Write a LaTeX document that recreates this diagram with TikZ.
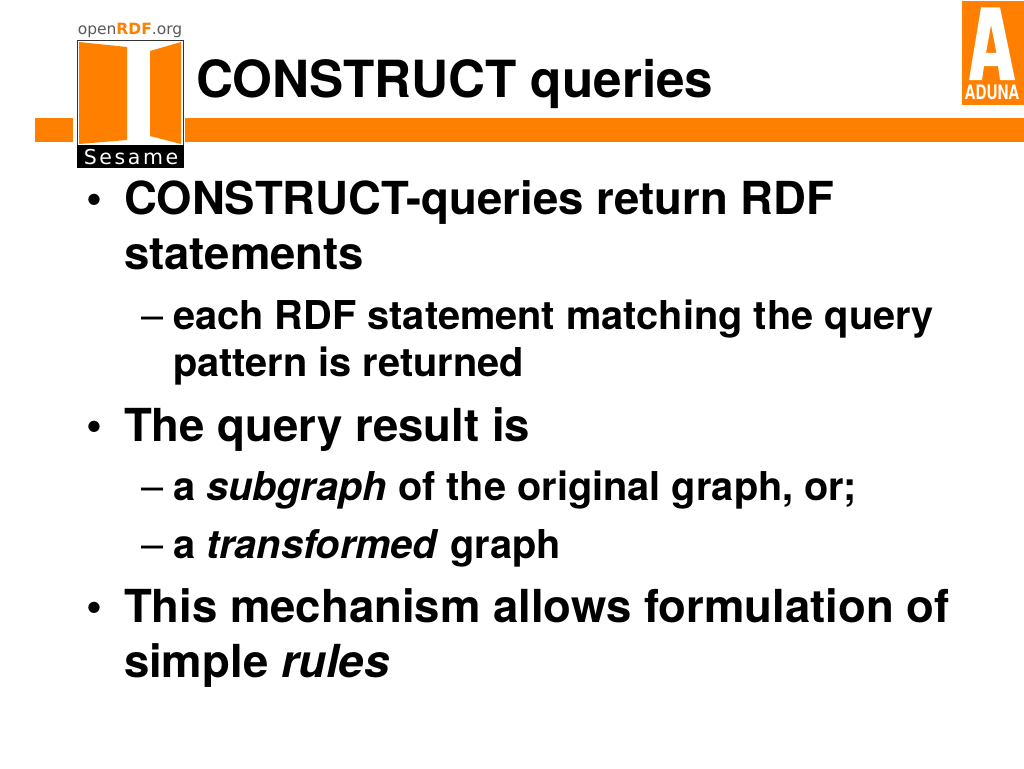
\documentclass[tikz,border=0pt]{standalone}
\usepackage{fontspec}
\setmainfont{TeX Gyre Heros}
\newfontfamily\logofont{DejaVu Sans}
\definecolor{org}{RGB}{255,128,0}
\tikzset{
 txt/.style={anchor=base west,inner sep=0pt,outer sep=0pt,font=\bfseries},
 lvlone/.style={txt,font=\fontsize{45.5}{45.5}\selectfont\bfseries},
 lvltwo/.style={txt,font=\fontsize{39.75}{39.75}\selectfont\bfseries},
 ttl/.style={txt,font=\fontsize{51.2}{51.2}\selectfont\bfseries},
 bul/.style={txt,font=\fontsize{45.5}{45.5}\selectfont\bfseries},
 dsh/.style={txt,font=\fontsize{39.75}{39.75}\selectfont},
}
\newcommand{\bitalic}[1]{\textit{#1}}
\begin{document}
\begin{tikzpicture}[x=1pt,y=-1pt]
\useasboundingbox (0,0) rectangle (1024,768);
\fill[white] (0,0) rectangle (1024,768);
% bar
\fill[org] (35,118) rectangle (73,142);
\fill[org] (185,118) rectangle (1024,142);
% sesame logo
\fill[white] (77,40) rectangle (183,167);
\draw[black!80,line width=0.8pt] (77.5,40.5) rectangle (183,146);
\fill[black] (77,145) rectangle (184,167.5);
\fill[org] (79,42) -- (127,47) -- (127,140) -- (79,144) -- cycle;
\fill[org] (150,51) -- (181,42) -- (181,144) -- (150,136) -- cycle;
\node[anchor=base,inner sep=0pt,text=white,font=\logofont\fontsize{20.5}{20.5}\selectfont] (ses) at (131,164) {S\kern2.6pt e\kern2.6pt s\kern2.6pt a\kern2.6pt m\kern2.6pt e};
\node[anchor=base,inner sep=0pt,text=black!65,font=\logofont\fontsize{15.5}{15.5}\selectfont] (ord) at (130,35) {open\textcolor{org}{\bfseries RDF}.org};
% aduna logo
\fill[org] (962,1) rectangle (1024,105);
\fill[white,even odd rule] (981,7.5) -- (1000,7.5) -- (1015,80) -- (1000,80) -- (998,66) -- (984,66) -- (982,80) -- (969,80) -- cycle
  (991,25) -- (986,53) -- (996.5,53) -- cycle;
\node[anchor=base,inner sep=0pt,text=white,font=\fontsize{16}{16}\selectfont\bfseries] (adu) at (992,99) {\scalebox{0.95}[1.25]{ADUNA}};
% texts
\node[ttl] (title) at (196,97) {CONSTRUCT queries};
\node[bul] (b1) at (86,213) {•};
\node[lvlone] (t1) at (124,214) {CONSTRUCT-queries return RDF};
\node[lvlone] (t1b) at (124,269) {statements};
\node[dsh] (d1) at (141,329) {–};
\node[lvltwo] (t2) at (173,329) {each RDF statement matching the query};
\node[lvltwo] (t2b) at (173,376) {pattern is returned};
\node[bul] (b2) at (86,440) {•};
\node[lvlone] (t3) at (124,441) {The query result is};
\node[dsh] (d2) at (141,500) {–};
\node[lvltwo] (t4) at (173,500) {a \bitalic{subgraph} of the original graph, or;};
\node[dsh] (d3) at (141,558) {–};
\node[lvltwo] (t5) at (173,558) {a \bitalic{transformed} graph};
\node[bul] (b3) at (86,621) {•};
\node[lvlone] (t6) at (124,622) {This mechanism allows formulation of};
\node[lvlone] (t6b) at (124,677) {simple \bitalic{rules}};
\end{tikzpicture}
\end{document}
